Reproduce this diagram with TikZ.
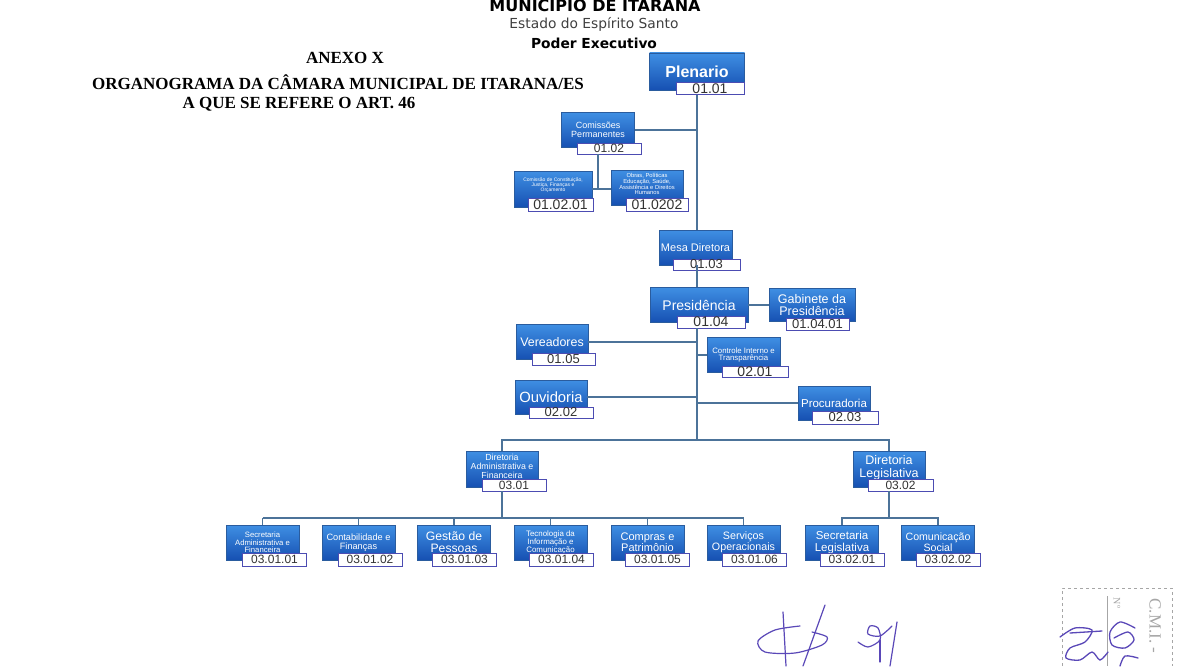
\documentclass[tikz,border=0pt]{standalone}
\usepackage{fontspec}
\setmainfont{Liberation Sans}
\newfontfamily\cabfont{DejaVu Sans}
\newfontfamily\titfont{Liberation Serif}
\usetikzlibrary{positioning}
\definecolor{azulclaro}{HTML}{3F8FE3}
\definecolor{azulescuro}{HTML}{1650B2}
\definecolor{azulborda}{HTML}{2A5C9E}
\definecolor{linhaorg}{HTML}{4C7399}
\definecolor{tinta}{HTML}{5A48B8}
\newcommand{\tam}[1]{\fontsize{#1}{#1}\selectfont}

\begin{document}
\begin{tikzpicture}[x=1pt,y=-1pt,
  caixa/.style={rectangle,draw=azulborda,line width=0.6pt,top color=azulclaro,bottom color=azulescuro,
    text=white,align=center,inner sep=1pt,minimum width=73,minimum height=35},
  codigo/.style={rectangle,draw=gray!60!blue,fill=white,line width=0.6pt,minimum width=64,minimum height=12,
    inner sep=0pt,font=\tam{12},text=black!80},
  conector/.style={draw=linhaorg,line width=1.6pt}]
\useasboundingbox (0,0) rectangle (1198,666);
\fill[white] (0,0) rectangle (1198,666);

% cabecalho
\node[font=\cabfont\bfseries\tam{16}] (municipio) at (595,4) {MUNICÍPIO DE ITARANA};
\node[font=\cabfont\tam{13.8}, text=black!75] (estado) at (594,24) {Estado do Espírito Santo};
\node[font=\cabfont\bfseries\tam{13.8}] (poder) at (594,43) {Poder Executivo};
\node[font=\titfont\bfseries\tam{17}] (anexo) at (345,58) {ANEXO X};
\node[font=\titfont\bfseries\tam{17}] (organograma) at (338,82) {ORGANOGRAMA DA CÂMARA MUNICIPAL DE ITARANA/ES};
\node[font=\titfont\bfseries\tam{17}] (artigo) at (299,104) {A QUE SE REFERE O ART. 46};

% caixas
\node[caixa,minimum width=95,minimum height=37,font=\tam{16}\bfseries] (plenario) at (697,71.5) {Plenario};
\node[codigo,minimum width=68,font=\tam{14}] (plenarioc) at (710,88.5) {01.01};
\node[caixa,font=\tam{9}] (comissoes) at (598,130) {Comissões\\Permanentes};
\node[codigo,minimum height=11] (comissoesc) at (609,148.5) {01.02};
\node[caixa,minimum width=78,minimum height=36,font=\tam{5}] (cjustica) at (553,189) {Comissão de Constituição,\\Justiça, Finanças e\\Orçamento\\[3pt]};
\node[codigo,minimum width=65,minimum height=13,font=\tam{14}] (cjusticac) at (560.5,205) {01.02.01};
\node[caixa,minimum width=72,font=\tam{5.8}] (cobras) at (647,187.5) {Obras, Políticas\\Educação, Saúde,\\Assistência e Direitos\\Humanos\\[1pt]};
\node[codigo,minimum width=62,minimum height=13,font=\tam{14}] (cobrasc) at (657,205) {01.0202};
\node[caixa,font=\tam{11}] (mesa) at (695.5,247.5) {Mesa Diretora};
\node[codigo,minimum width=67,minimum height=11,font=\tam{13}] (mesac) at (706.5,264.5) {01.03};
\node[caixa,minimum width=98,font=\tam{14}] (presidencia) at (699,305) {Presidência};
\node[codigo,minimum width=68,font=\tam{14}] (presidenciac) at (711,322) {01.04};
\node[caixa,minimum width=86,minimum height=33,font=\tam{12.5}] (gabinete) at (812,305) {Gabinete da\\Presidência};
\node[codigo,minimum width=63,font=\tam{13}] (gabinetec) at (817.5,324) {01.04.01};
\node[caixa,minimum width=72,font=\tam{12.4}] (vereadores) at (552,342) {Vereadores};
\node[codigo,minimum width=63,font=\tam{13}] (vereadoresc) at (563.5,359) {01.05};
\node[caixa,font=\tam{7.8}] (controle) at (743.5,355) {Controle Interno e\\Transparência};
\node[codigo,minimum width=66,minimum height=11,font=\tam{14}] (controlec) at (755,371.5) {02.01};
\node[caixa,minimum width=72,minimum height=34,font=\tam{14.8}] (ouvidoria) at (551,397) {Ouvidoria};
\node[codigo,minimum height=11,font=\tam{13}] (ouvidoriac) at (561,412.5) {02.02};
\node[caixa,minimum width=72,minimum height=34,font=\tam{11.5}] (procuradoria) at (834,403) {Procuradoria};
\node[codigo,minimum width=66,minimum height=13,font=\tam{13}] (procuradoriac) at (845,417.5) {02.03};
\node[caixa,minimum width=72,minimum height=36,font=\tam{8.8}] (dadm) at (502,469) {Diretoria\\Administrativa e\\Financeira\\[-3pt]};
\node[codigo] (dadmc) at (514,485) {03.01};
\node[caixa,minimum width=72,minimum height=36,font=\tam{12.5}] (dleg) at (889,469) {Diretoria\\Legislativa\\[-7pt]};
\node[codigo,minimum width=65] (dlegc) at (900.5,485) {03.02};

\node[caixa,font=\tam{7.7}] (secadm) at (262.5,542.5) {Secretaria\\Administrativa e\\Financeira};
\node[codigo,minimum height=13] (secadmc) at (274.5,559.5) {03.01.01};
\node[caixa,font=\tam{9.2}] (contab) at (358.5,542.5) {Contabilidade e\\Finanças};
\node[codigo,minimum height=13] (contabc) at (370,559.5) {03.01.02};
\node[caixa,font=\tam{12.2}] (gestao) at (454,542.5) {Gestão de\\Pessoas};
\node[codigo,minimum height=13] (gestaoc) at (464.5,559.5) {03.01.03};
\node[caixa,font=\tam{7.9}] (tecno) at (550.5,542.5) {Tecnologia da\\Informação e\\Comunicação};
\node[codigo,minimum height=13] (tecnoc) at (561.5,559.5) {03.01.04};
\node[caixa,font=\tam{11}] (compras) at (647.5,542.5) {Compras e\\Patrimônio};
\node[codigo,minimum height=13] (comprasc) at (657.5,559.5) {03.01.05};
\node[caixa,font=\tam{10.7}] (servicos) at (743.5,542.5) {Serviços\\Operacionais};
\node[codigo,minimum height=13] (servicosc) at (754.5,559.5) {03.01.06};
\node[caixa,font=\tam{11.5}] (seclegis) at (842,542.5) {Secretaria\\Legislativa};
\node[codigo,minimum height=13] (seclegisc) at (852,559.5) {03.02.01};
\node[caixa,font=\tam{10.6}] (comunic) at (938,542.5) {Comunicação\\Social};
\node[codigo,minimum height=13] (comunicc) at (948,559.5) {03.02.02};

% ligacoes
\coordinate (barra) at (697,440);
\coordinate (barraadm) at (502,518);
\coordinate (barraleg) at (889,518);
\draw[conector] (plenario.south |- plenarioc.south) -- (mesa.north -| plenario.south);
\draw[conector] (comissoes.east) -- (comissoes.east -| plenario.south);
\draw[conector] (comissoes.south |- comissoesc.south) -- (comissoes.south |- cjustica.east);
\draw[conector] (cjustica.east) -- (cobras.west |- cjustica.east);
\draw[conector] (mesa.south -| plenario.south) -- (presidencia.north -| plenario.south);
\draw[conector] (presidencia.east) -- (gabinete.west);
\draw[conector] (presidenciac.south -| barra) -- (barra);
\draw[conector] (vereadores.east) -- (vereadores.east -| barra);
\draw[conector] (controle.west -| barra) -- (controle.west);
\draw[conector] (ouvidoria.east) -- (ouvidoria.east -| barra);
\draw[conector] (procuradoria.west -| barra) -- (procuradoria.west);
\draw[conector] (dadm.north) -- (dadm.north |- barra) -- (dleg.north |- barra) -- (dleg.north);
\draw[conector] (dadmc.south -| barraadm) -- (barraadm);
\draw[conector] (secadm.north |- barraadm) -- (servicos.north |- barraadm);
\foreach \n in {secadm,contab,gestao,tecno,compras,servicos}
  \draw[conector] (\n.north) -- (\n.north |- barraadm);
\draw[conector] (dlegc.south -| barraleg) -- (barraleg);
\draw[conector] (seclegis.north) -- (seclegis.north |- barraleg) -- (comunic.north |- barraleg) -- (comunic.north);

% assinaturas e carimbo
\draw[tinta,line width=1.2pt,line cap=round] plot[smooth] coordinates {(800,626) (775,630) (758,641) (765,652) (795,653) (822,645) (827,637) (812,632)};
\draw[tinta,line width=1.2pt,line cap=round] (783,612) -- (786,666);
\draw[tinta,line width=1.2pt,line cap=round] (825,605) -- (803,666);
\draw[tinta,line width=1.2pt,line cap=round] plot[smooth] coordinates {(858,642) (868,647) (880,640) (878,628) (870,626) (868,634) (880,636) (892,626)};
\draw[tinta,line width=1.2pt,line cap=round] (897,622) -- (890,666);
\draw[tinta,line width=1.2pt,line cap=round] (880,640) -- (880,662);
\draw[gray!70,dashed,line width=1pt] (1062,666) -- (1062,588) -- (1172,588) -- (1172,666);
\draw[gray!70,line width=1pt] (1107,596) -- (1107,666);
\node[rotate=-90,font=\titfont\tam{17},text=gray!70] (cmi) at (1155,626) {C.M.I. -};
\node[rotate=-90,font=\titfont\tam{10},text=gray!70] (numero) at (1117,603) {Nº};
\draw[tinta,line width=1.3pt,line cap=round] plot[smooth] coordinates {(1060,637) (1075,628) (1092,630) (1085,642) (1070,648) (1066,658) (1080,660) (1092,652) (1100,660) (1108,652)};
\draw[tinta,line width=1.3pt,line cap=round] (1070,633) -- (1102,631);
\draw[tinta,line width=1.3pt,line cap=round] plot[smooth] coordinates {(1135,628) (1120,622) (1110,632) (1112,645) (1125,648) (1134,640) (1128,632) (1114,638)};
\draw[tinta,line width=1.3pt,line cap=round] plot[smooth] coordinates {(1138,658) (1125,656) (1120,666)};
\end{tikzpicture}
\end{document}
